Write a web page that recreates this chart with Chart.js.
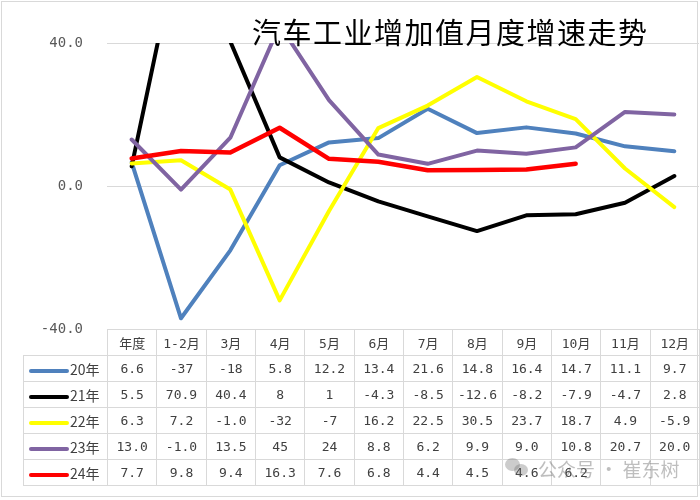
<!DOCTYPE html>
<html>
<head>
<meta charset="utf-8">
<script src="https://cdn.jsdelivr.net/npm/chart.js@4.4.1/dist/chart.umd.min.js"></script>
<style>
    html, body { margin: 0; padding: 0; background: #fff; }
    #wrap { position: relative; width: 700px; height: 500px; font-family: "Noto Sans CJK SC", sans-serif; overflow: hidden; }
    #chart { position: absolute; left: 0; top: 0; }
    #frame { position: absolute; left: 1px; top: 1px; width: 697px; height: 496px; border: 1px solid #d9d9d9; box-sizing: border-box; pointer-events: none; }
    #title { position: absolute; left: 252px; top: 14px; font-size: 29px; letter-spacing: 1.5px; color: #000; white-space: nowrap; line-height: 1.2; }
    #dataTable { position: absolute; border-collapse: collapse; table-layout: fixed; font-family: "DejaVu Sans Mono", "Noto Sans CJK SC", monospace; font-size: 13px; color: #404040; }
    #dataTable td { border: 1px solid #d9d9d9; text-align: center; padding: 0; height: 25px; white-space: nowrap; overflow: hidden; }
    #dataTable td.blank { border-top: none; border-left: none; }
    #dataTable td.name { text-align: left; padding-left: 5px; font-family: "Noto Sans CJK SC", sans-serif; font-size: 14px; }
    .swatch { display: inline-block; width: 40px; height: 4px; border-radius: 2px; vertical-align: middle; margin-right: 1px; }
    #mark { position: absolute; left: 505px; top: 455px; font-size: 19px; color: rgba(110, 110, 110, 0.45); white-space: nowrap; }
    .bubble { position: absolute; border-radius: 50%; background: rgba(110, 110, 110, 0.35); }
</style>
</head>
<body>
<div id="wrap">
    <canvas id="chart" width="700" height="500"></canvas>
    <div id="title">汽车工业增加值月度增速走势</div>
    <table id="dataTable"></table>
    <div id="mark">
        <span class="bubble" style="left:0;top:3px;width:15px;height:13px;"></span>
        <span class="bubble" style="left:9px;top:9px;width:14px;height:12px;"></span>
        <span style="margin-left:33px;">公众号 · 崔东树</span>
    </div>
    <div id="frame"></div>
</div>
<script>
// ========== DATA ==========
const categories = ['年度', '1-2月', '3月', '4月', '5月', '6月', '7月', '8月', '9月', '10月', '11月', '12月'];
const series20 = ['6.6', '-37', '-18', '5.8', '12.2', '13.4', '21.6', '14.8', '16.4', '14.7', '11.1', '9.7'];
const series21 = ['5.5', '70.9', '40.4', '8', '1', '-4.3', '-8.5', '-12.6', '-8.2', '-7.9', '-4.7', '2.8'];
const series22 = ['6.3', '7.2', '-1.0', '-32', '-7', '16.2', '22.5', '30.5', '23.7', '18.7', '4.9', '-5.9'];
const series23 = ['13.0', '-1.0', '13.5', '45', '24', '8.8', '6.2', '9.9', '9.0', '10.8', '20.7', '20.0'];
const series24 = ['7.7', '9.8', '9.4', '16.3', '7.6', '6.8', '4.4', '4.5', '4.6', '6.2', null, null];
const seriesNames = ['20年', '21年', '22年', '23年', '24年'];
const seriesColors = ['#4f81bd', '#000000', '#ffff00', '#8064a2', '#ff0000'];
const yTicks = [-40, 0, 40];

const allSeries = [series20, series21, series22, series23, series24];

// ========== CHART ==========
const chart = new Chart(document.getElementById('chart'), {
    type: 'line',
    data: {
        labels: categories,
        datasets: allSeries.map((values, i) => ({
            label: seriesNames[i],
            data: values,
            borderColor: seriesColors[i],
            backgroundColor: seriesColors[i],
            borderWidth: i === 4 ? 4.5 : 4,
            pointRadius: 0,
            tension: 0,
            borderJoinStyle: 'round',
            borderCapStyle: 'round',
            clip: 0,
            order: seriesNames.length - i
        }))
    },
    options: {
        responsive: false,
        animation: false,
        layout: { padding: { top: 43, right: 1, bottom: 171, left: 0 } },
        plugins: {
            legend: { display: false },
            tooltip: { enabled: false }
        },
        scales: {
            x: {
                display: false,
                offset: true
            },
            y: {
                min: -40,
                max: 40,
                afterBuildTicks: scale => { scale.ticks = yTicks.map(v => ({ value: v })); },
                afterFit: scale => { scale.width = 107; },
                ticks: {
                    color: '#595959',
                    padding: 24,
                    font: { family: '"DejaVu Sans Mono", monospace', size: 14 },
                    callback: value => value.toFixed(1)
                },
                grid: { color: '#d9d9d9', lineWidth: 1, drawTicks: false },
                border: { display: false }
            }
        }
    }
});

// ========== DATA TABLE ==========
function buildTable() {
    const area = chart.chartArea;
    const tableLeft = 23;
    const colWidth = (area.right - area.left) / categories.length;
    const table = document.getElementById('dataTable');
    table.style.left = tableLeft + 'px';
    table.style.top = Math.round(area.bottom) + 'px';
    table.style.width = (area.right - tableLeft) + 'px';

    const colgroup = document.createElement('colgroup');
    const first = document.createElement('col');
    first.style.width = (area.left - tableLeft) + 'px';
    colgroup.appendChild(first);
    categories.forEach(() => {
        const col = document.createElement('col');
        col.style.width = colWidth + 'px';
        colgroup.appendChild(col);
    });
    table.appendChild(colgroup);

    const head = document.createElement('tr');
    const blank = document.createElement('td');
    blank.className = 'blank';
    head.appendChild(blank);
    categories.forEach(cat => {
        const td = document.createElement('td');
        td.textContent = cat;
        head.appendChild(td);
    });
    table.appendChild(head);

    allSeries.forEach((values, i) => {
        const tr = document.createElement('tr');
        const name = document.createElement('td');
        name.className = 'name';
        name.innerHTML = '<span class="swatch" style="background:' + seriesColors[i] + '"></span>' + seriesNames[i];
        tr.appendChild(name);
        values.forEach(v => {
            const td = document.createElement('td');
            td.textContent = v === null ? '' : v;
            tr.appendChild(td);
        });
        table.appendChild(tr);
    });
}

buildTable();
</script>
</body>
</html>
